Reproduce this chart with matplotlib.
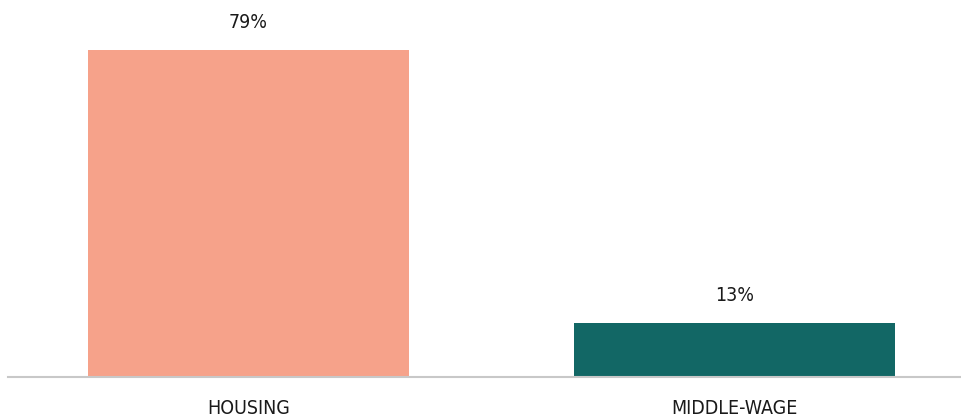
import matplotlib.pyplot as plt

plt.rcParams['font.family'] = ['DejaVu Sans']
plt.rcParams['font.stretch'] = 'condensed'

categories = ["HOUSING", "MIDDLE-WAGE"]
shares = [79, 13]
colors = ["#F6A28A", "#126765"]

fig = plt.figure(figsize=(9.62, 4.17), dpi=100)
ax = fig.add_axes([8 / 962, 40 / 417, 954 / 962, 377 / 417])

x = range(len(categories))
bars = ax.bar(x, shares, width=0.66, color=colors)

for b, v in zip(bars, shares):
    ax.annotate(f"{v}%", (b.get_x() + b.get_width() / 2, v),
                xytext=(0, 13), textcoords="offset points",
                ha="center", va="bottom", fontsize=14, color="#1a1a1a")

ax.set_xlim(-0.495, 1.468)
ax.set_ylim(0, 91)
ax.set_xticks(list(x))
ax.set_xticklabels(categories, fontsize=14, color="#1a1a1a")
ax.tick_params(axis="x", length=0, pad=16)
ax.set_yticks([])
for side in ["top", "right", "left"]:
    ax.spines[side].set_visible(False)
ax.spines["bottom"].set_color("#c8c8c8")
ax.spines["bottom"].set_linewidth(1.5)

fig.savefig("out.png", dpi=100)
